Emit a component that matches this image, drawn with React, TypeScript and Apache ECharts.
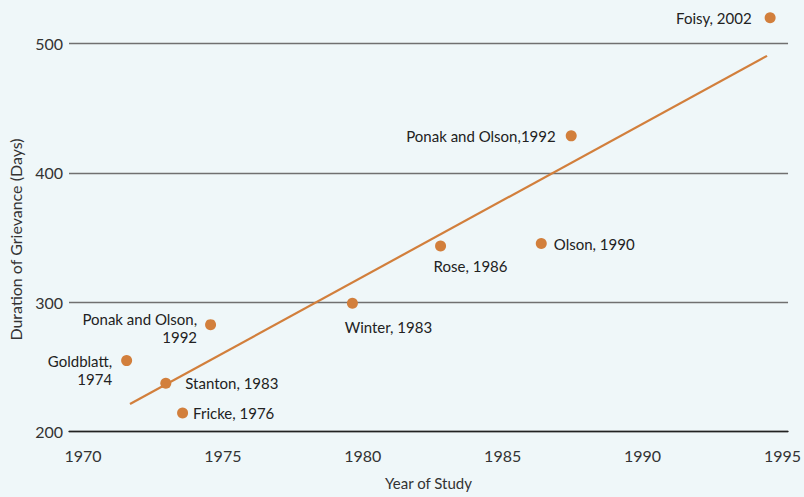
import React, { useEffect, useRef } from "react";
import * as echarts from "echarts";

const studyLabels = [
  "Goldblatt,\n1974",
  "Stanton, 1983",
  "Fricke, 1976",
  "Ponak and Olson,\n1992",
  "Winter, 1983",
  "Rose, 1986",
  "Olson, 1990",
  "Ponak and Olson,1992",
  "Foisy, 2002",
];
const studyYears = [1971.56, 1972.96, 1973.56, 1974.56, 1979.63, 1982.78, 1986.38, 1987.45, 1994.56];
const grievanceDays = [254.9, 237.4, 214.5, 282.7, 299.2, 343.5, 345.3, 428.5, 519.7];
const trendYears = [1971.68, 1994.45];
const trendDays = [221.4, 490.3];
const xTickLabels = [1970, 1975, 1980, 1985, 1990, 1995];
const yTickLabels = [200, 300, 400, 500];

const labelStyles: any[] = [
  { position: "left", distance: 9, offset: [0, 9], align: "right" },
  { position: "right", distance: 14 },
  { position: "right", distance: 5 },
  { position: "left", distance: 8, offset: [0, 3], align: "right" },
  { position: "bottom", distance: 9, offset: [36, 0] },
  { position: "bottom", distance: 6, offset: [30, 0] },
  { position: "right", distance: 7 },
  { position: "left", distance: 10 },
  { position: "left", distance: 13 },
];

const ORANGE = "#d27f3c";
const FONT = "Lato";

export default function App() {
  const ref = useRef<HTMLDivElement>(null);
  useEffect(() => {
    if (!ref.current) return;
    const chart = echarts.init(ref.current, null, { renderer: "svg" });
    const scatterData = studyYears.map((yr, i) => ({
      value: [yr, grievanceDays[i]],
      name: studyLabels[i],
      label: { show: true, ...labelStyles[i] },
    }));
    chart.setOption({
      animation: false,
      backgroundColor: "#eff7f9",
      grid: { left: 69, right: 15, top: 43.3, bottom: 65.3 },
      xAxis: {
        type: "value",
        min: 1969.5,
        max: 1995.2,
        name: "Year of Study",
        nameLocation: "middle",
        nameGap: 44,
        nameTextStyle: { fontFamily: FONT, fontSize: 15, color: "#333" },
        axisLine: { show: true, lineStyle: { color: "#222", width: 1.3 } },
        axisTick: { show: false },
        splitLine: { show: false },
        axisLabel: {
          customValues: xTickLabels,
          formatter: (v: number) => String(v),
          margin: 16,
          fontFamily: FONT,
          fontSize: 16,
          color: "#333",
        },
      },
      yAxis: {
        type: "value",
        min: 200,
        max: 500,
        interval: 100,
        axisLine: { show: false },
        axisTick: { show: false },
        splitLine: { show: true, lineStyle: { color: "#707070", width: 1.3 } },
        axisLabel: {
          customValues: yTickLabels,
          formatter: (v: number) => String(v),
          margin: 6,
          fontFamily: FONT,
          fontSize: 16,
          color: "#333",
        },
      },
      graphic: [
        {
          type: "text",
          x: 15,
          y: 239.5,
          rotation: Math.PI / 2,
          style: {
            text: "Duration of Grievance (Days)",
            fontFamily: FONT,
            fontSize: 16,
            fill: "#333",
            align: "center",
            verticalAlign: "middle",
          },
        },
      ],
      series: [
        {
          type: "line",
          data: trendYears.map((yr, i) => [yr, trendDays[i]]),
          symbol: "none",
          lineStyle: { color: ORANGE, width: 2.2 },
          z: 2,
        },
        {
          type: "scatter",
          data: scatterData,
          symbolSize: 11,
          clip: false,
          itemStyle: { color: ORANGE, opacity: 1 },
          label: {
            show: true,
            formatter: (p: any) => p.name,
            fontFamily: FONT,
            fontSize: 15,
            color: "#222",
            lineHeight: 18,
          },
          z: 3,
        },
      ],
    });
    return () => chart.dispose();
  }, []);
  return <div ref={ref} style={{ width: 804, height: 497, position: "fixed", left: 0, top: 0 }} />;
}
